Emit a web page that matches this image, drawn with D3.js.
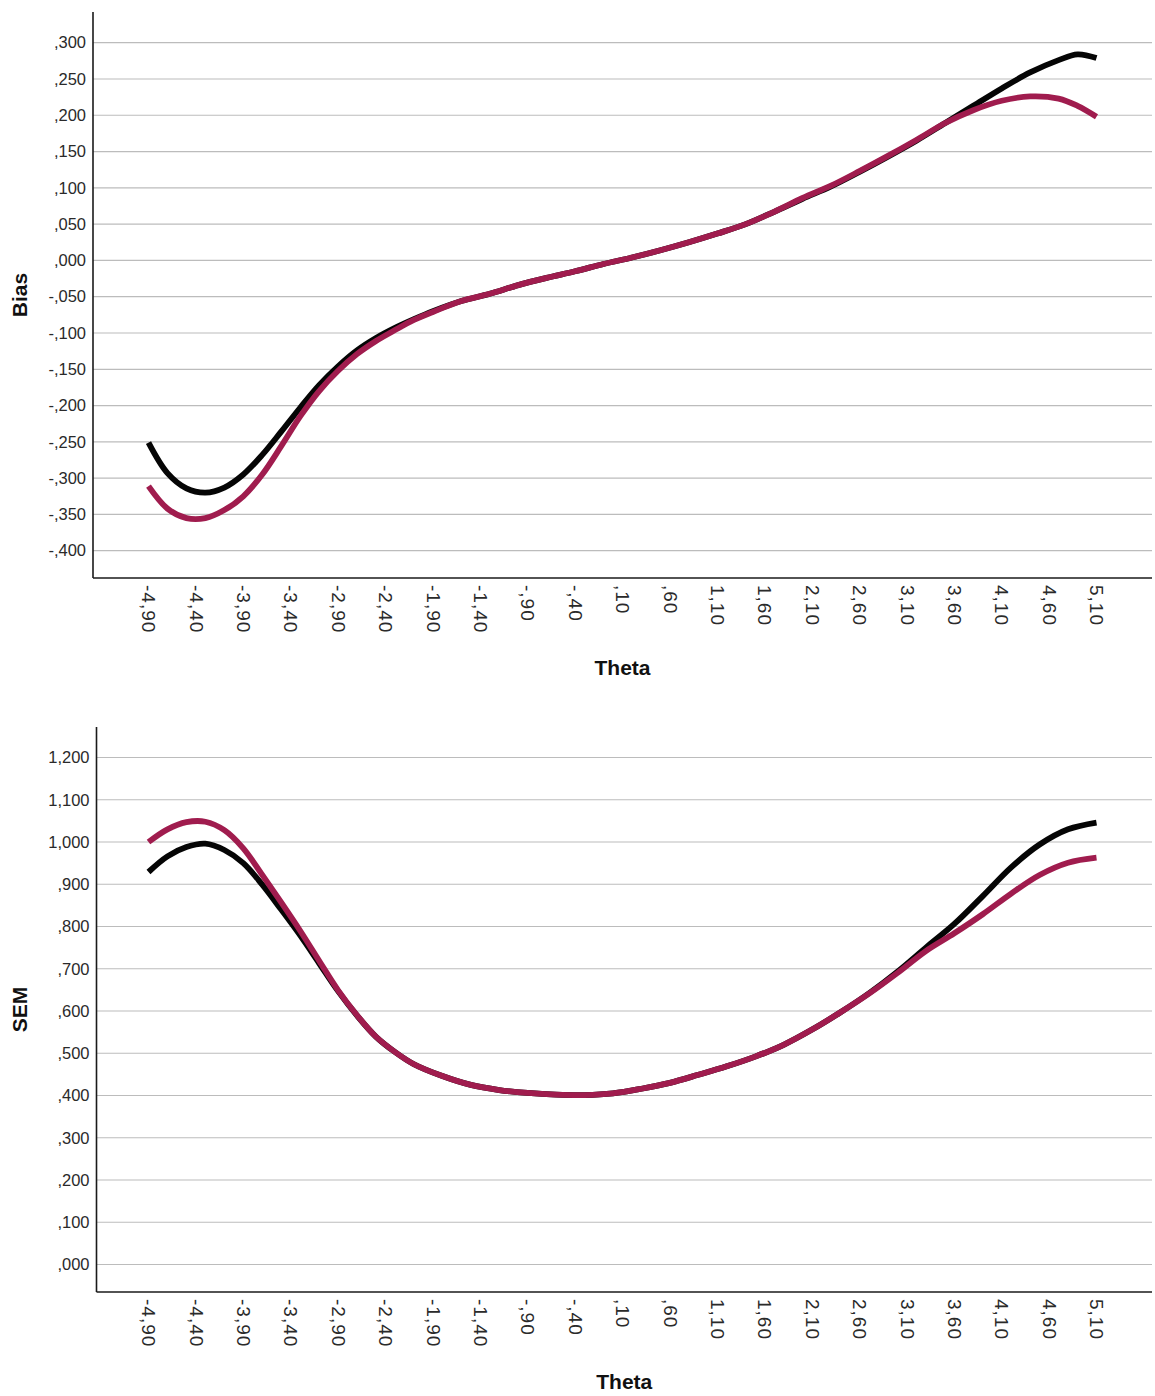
<!DOCTYPE html>
<html><head><meta charset="utf-8">
<script src="https://cdn.jsdelivr.net/npm/d3@7"></script>
<style>
body{margin:0;background:#fff}
svg{display:block}
text{font-family:"Liberation Sans",Arial,sans-serif}
</style>
</head><body>
<svg id="c" width="1155" height="1396"></svg>
<script>
// ---- data ----
const thetaTicks = [-4.9,-4.4,-3.9,-3.4,-2.9,-2.4,-1.9,-1.4,-0.9,-0.4,0.1,0.6,1.1,1.6,2.1,2.6,3.1,3.6,4.1,4.6,5.1];
const biasTicks = [-0.4,-0.35,-0.3,-0.25,-0.2,-0.15,-0.1,-0.05,0,0.05,0.1,0.15,0.2,0.25,0.3];
const semTicks = [0,0.1,0.2,0.3,0.4,0.5,0.6,0.7,0.8,0.9,1.0,1.1,1.2];

const thetaBias = [-4.9,-4.7,-4.5,-4.3,-4.1,-3.9,-3.7,-3.5,-3.3,-3.1,-2.9,-2.7,-2.5,-2.3,-2.1,-1.9,-1.6,-1.3,-1.0,-0.7,-0.4,-0.1,0.2,0.5,0.8,1.1,1.4,1.7,2.0,2.3,2.6,2.9,3.2,3.5,3.8,4.1,4.4,4.7,4.9,5.1];
const biasBlack = [-0.251,-0.293,-0.314,-0.320,-0.313,-0.295,-0.268,-0.236,-0.203,-0.172,-0.146,-0.124,-0.107,-0.093,-0.081,-0.070,-0.056,-0.046,-0.034,-0.024,-0.015,-0.005,0.004,0.014,0.025,0.037,0.050,0.067,0.085,0.102,0.122,0.143,0.165,0.189,0.213,0.237,0.259,0.276,0.284,0.279];
const biasRed   = [-0.311,-0.342,-0.355,-0.355,-0.344,-0.325,-0.295,-0.256,-0.215,-0.180,-0.152,-0.129,-0.111,-0.096,-0.082,-0.071,-0.056,-0.046,-0.034,-0.024,-0.015,-0.005,0.004,0.014,0.025,0.037,0.050,0.067,0.086,0.103,0.123,0.144,0.166,0.189,0.207,0.220,0.226,0.223,0.213,0.198];

const thetaSem = [-4.9,-4.7,-4.5,-4.3,-4.1,-3.9,-3.7,-3.5,-3.3,-3.1,-2.9,-2.7,-2.5,-2.3,-2.1,-1.8,-1.5,-1.2,-0.9,-0.6,-0.3,0.0,0.3,0.6,0.9,1.2,1.5,1.8,2.1,2.4,2.7,3.0,3.3,3.6,3.9,4.2,4.5,4.8,5.1];
const semBlack = [0.929,0.966,0.988,0.996,0.981,0.950,0.899,0.840,0.779,0.713,0.647,0.589,0.539,0.503,0.474,0.446,0.425,0.413,0.406,0.402,0.401,0.405,0.416,0.430,0.449,0.469,0.492,0.520,0.556,0.597,0.642,0.693,0.750,0.806,0.872,0.940,0.994,1.030,1.046];
const semRed   = [1.000,1.030,1.047,1.048,1.028,0.985,0.922,0.857,0.790,0.719,0.649,0.590,0.539,0.503,0.474,0.446,0.425,0.413,0.406,0.402,0.401,0.405,0.416,0.430,0.449,0.469,0.492,0.520,0.556,0.597,0.641,0.690,0.742,0.784,0.829,0.878,0.922,0.951,0.963];

const colors = ["#050505", "#a01c4e"];

// ---- helpers ----
function spssFmt(v, dec){
  let s = Math.abs(v).toFixed(dec);
  if (s.startsWith("0.")) s = s.slice(1);
  s = s.replace(".", ",");
  return (v < -1e-9 ? "-" : "") + s;
}

const svg = d3.select("#c");
const xScale = d3.scaleLinear().domain([-4.9, 5.1]).range([148.5, 1096.5]);

function panel(o){
  const g = svg.append("g");
  const y = d3.scaleLinear().domain(o.yDomain).range([o.bottom, o.top]);
  // gridlines
  g.append("g").selectAll("line").data(o.yTicks).join("line")
    .attr("x1", o.left).attr("x2", o.right)
    .attr("y1", d => y(d)).attr("y2", d => y(d))
    .attr("stroke", "#bcbcbc").attr("stroke-width", 1.2);
  // y axis labels
  const ya = g.append("g").attr("transform", `translate(${o.left},0)`)
    .call(d3.axisLeft(y).tickValues(o.yTicks).tickSize(0).tickPadding(7).tickFormat(d => spssFmt(d, 3)));
  ya.select(".domain").remove();
  ya.selectAll("text").attr("font-size", 16.5).attr("fill", "#2a2a2a")
    .style("font-family", '"Liberation Sans",Arial,sans-serif');
  // x axis labels
  const xa = g.append("g").attr("transform", `translate(0,${o.bottom})`)
    .call(d3.axisBottom(xScale).tickValues(thetaTicks).tickSize(0).tickFormat(d => spssFmt(d, 2)));
  xa.select(".domain").remove();
  xa.selectAll("text")
    .attr("transform", "rotate(90)")
    .attr("x", 7).attr("y", 0).attr("dy", "0.36em")
    .attr("text-anchor", "start")
    .attr("font-size", 19).attr("letter-spacing", 1).attr("fill", "#2a2a2a")
    .style("font-family", '"Liberation Sans",Arial,sans-serif');
  // lines
  const line = d3.line().x(d => xScale(d[0])).y(d => y(d[1])).curve(d3.curveCatmullRom.alpha(0.5));
  o.series.forEach((s, i) => {
    g.append("path").datum(o.theta.map((t, k) => [t, s[k]]))
      .attr("d", line).attr("fill", "none")
      .attr("stroke", colors[i]).attr("stroke-width", 5.8)
      .attr("stroke-linecap", "butt").attr("stroke-linejoin", "round");
  });
  // axis lines
  g.append("line").attr("x1", o.left).attr("x2", o.left).attr("y1", o.top).attr("y2", o.bottom)
    .attr("stroke", "#1a1a1a").attr("stroke-width", 1.6);
  g.append("line").attr("x1", o.left).attr("x2", o.right).attr("y1", o.bottom).attr("y2", o.bottom)
    .attr("stroke", "#1a1a1a").attr("stroke-width", 1.6);
  // titles
  g.append("text").attr("transform", `translate(27,${(o.top + o.bottom) / 2}) rotate(-90)`)
    .attr("text-anchor", "middle").attr("font-size", 21).attr("font-weight", "bold").attr("fill", "#111")
    .text(o.yTitle);
  g.append("text").attr("x", (o.left + o.right) / 2).attr("y", o.xTitleY)
    .attr("text-anchor", "middle").attr("font-size", 21).attr("font-weight", "bold").attr("fill", "#111")
    .text("Theta");
}

// y domains derived from tick positions
panel({top: 12, bottom: 578, left: 93, right: 1152,
  yDomain: [-0.4376, 0.3423], yTicks: biasTicks,
  theta: thetaBias, series: [biasBlack, biasRed], yTitle: "Bias", xTitleY: 675});

panel({top: 727, bottom: 1292, left: 96.5, right: 1152,
  yDomain: [-0.0651, 1.2722], yTicks: semTicks,
  theta: thetaSem, series: [semBlack, semRed], yTitle: "SEM", xTitleY: 1389});
</script>
</body></html>
